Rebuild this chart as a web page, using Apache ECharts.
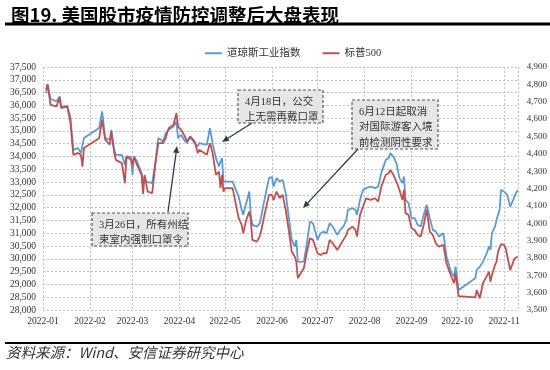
<!DOCTYPE html>
<html>
<head>
<meta charset="utf-8">
<script src="https://cdn.jsdelivr.net/npm/echarts@6/dist/echarts.min.js"></script>
<style>html,body{margin:0;padding:0;background:#fff;}#c{width:550px;height:370px;}</style>
</head>
<body>
<div id="c"></div>
<script>
const dates = ['2022-01-03','2022-01-04','2022-01-06','2022-01-10','2022-01-12','2022-01-13','2022-01-17','2022-01-19','2022-01-21','2022-01-24','2022-01-26','2022-01-27','2022-01-28','2022-02-07','2022-02-09','2022-02-11','2022-02-14','2022-02-15','2022-02-17','2022-02-18','2022-02-22','2022-02-24','2022-02-25','2022-02-28','2022-03-01','2022-03-02','2022-03-04','2022-03-07','2022-03-08','2022-03-09','2022-03-10','2022-03-11','2022-03-14','2022-03-16','2022-03-18','2022-03-21','2022-03-22','2022-03-23','2022-03-24','2022-03-25','2022-03-28','2022-03-30','2022-03-31','2022-04-02','2022-04-04','2022-04-06','2022-04-08','2022-04-11','2022-04-13','2022-04-14','2022-04-19','2022-04-21','2022-04-22','2022-04-23','2022-04-25','2022-04-27','2022-04-28','2022-04-29','2022-04-30','2022-05-01','2022-05-06','2022-05-10','2022-05-12','2022-05-13','2022-05-15','2022-05-17','2022-05-18','2022-05-19','2022-05-22','2022-05-24','2022-05-25','2022-05-27','2022-05-30','2022-06-01','2022-06-02','2022-06-04','2022-06-06','2022-06-08','2022-06-10','2022-06-12','2022-06-14','2022-06-16','2022-06-17','2022-06-18','2022-06-22','2022-06-24','2022-06-26','2022-06-28','2022-07-01','2022-07-03','2022-07-05','2022-07-07','2022-07-09','2022-07-11','2022-07-14','2022-07-16','2022-07-18','2022-07-20','2022-07-21','2022-07-24','2022-07-26','2022-07-27','2022-07-29','2022-07-31','2022-08-02','2022-08-05','2022-08-08','2022-08-10','2022-08-12','2022-08-15','2022-08-17','2022-08-18','2022-08-20','2022-08-22','2022-08-24','2022-08-26','2022-08-27','2022-08-28','2022-08-30','2022-09-01','2022-09-03','2022-09-05','2022-09-07','2022-09-09','2022-09-11','2022-09-13','2022-09-15','2022-09-17','2022-09-19','2022-09-22','2022-09-24','2022-09-27','2022-09-29','2022-09-30','2022-10-02','2022-10-03','2022-10-13','2022-10-14','2022-10-16','2022-10-18','2022-10-21','2022-10-22','2022-10-23','2022-10-24','2022-10-25','2022-10-26','2022-10-27','2022-10-28','2022-10-29','2022-10-30','2022-11-01','2022-11-02','2022-11-03','2022-11-05','2022-11-07','2022-11-08','2022-11-10'];

const dowValues = [36482,36807,36248,36154,36349,35958,35958,35566,34263,34330,34134,34067,34721,35112,35762,34721,34655,35046,34263,34067,34067,33676,34001,33989,33285,34001,33805,33363,32893,33218,33022,32960,32960,33742,34721,34590,34760,34917,34968,35046,35175,35371,34721,34850,34655,34525,34760,34525,34392,34525,34459,35112,34784,34459,33938,33609,33805,33938,33022,33022,33022,32435,31915,31719,32177,32631,31719,31328,31261,31394,31445,32306,33155,33195,32827,33155,33022,33089,32568,31652,30740,30478,30740,29879,29891,30611,31457,31394,30740,31003,31065,31003,31394,31261,30936,31132,31261,31523,31915,31981,31915,31719,32306,32697,32764,32827,32764,32827,33351,33872,33938,34134,34001,33743,33155,32960,33218,32306,32177,31590,31590,31328,31261,31719,32110,31590,31132,31065,30870,31003,30087,29488,29304,29696,28784,28717,29241,29566,29696,29879,30283,30478,30349,31003,31132,31261,31523,31719,31915,32697,32631,32580,32502,32044,32306,32463,32697];

const spValues = [4769,4802,4682,4673,4727,4663,4673,4586,4394,4404,4394,4326,4433,4490,4596,4481,4452,4528,4404,4365,4346,4231,4384,4365,4336,4384,4336,4279,4169,4279,4231,4182,4173,4336,4461,4461,4461,4490,4528,4548,4567,4635,4557,4538,4509,4471,4500,4471,4404,4423,4394,4461,4434,4394,4279,4298,4202,4279,4182,4202,4202,4029,3990,3942,4019,4067,4019,3904,3894,3927,3961,4048,4163,4163,4134,4182,4144,4163,4077,3961,3836,3807,3777,3684,3742,3836,3913,3904,3827,3817,3827,3827,3904,3884,3846,3875,3904,3932,3961,3980,3961,3923,4048,4096,4144,4134,4144,4124,4211,4279,4288,4307,4279,4240,4192,4134,4192,4058,4048,3971,3961,3932,3923,3990,4077,3951,3932,3884,3865,3875,3769,3696,3654,3711,3580,3576,3573,3615,3567,3654,3702,3721,3663,3702,3730,3759,3778,3836,3846,3880,3875,3856,3817,3730,3777,3798,3807];

const seriesNames = ['道琼斯工业指数','标普500'];
const leftAxis = {min: 28000, max: 37500, step: 500};
const rightAxis = {min: 3500, max: 4900, step: 100};
const xRange = ['2022-01-01','2022-11-10'];

const annotations = [
  {lines: ['4月18日，公交','上无需再戴口罩'], box: [238, 90, 85, 33], arrow: [252, 123, 222, 142]},
  {lines: ['3月26日，所有州结','束室内强制口罩令'], box: [92, 213, 96, 33], arrow: [168, 212, 177, 146]},
  {lines: ['6月12日起取消','对国际游客入境','前检测阴性要求'], box: [352, 100, 86, 49], arrow: [358, 149, 303, 208]}
];

const FONT = "'Liberation Serif','Noto Sans CJK SC',serif";
const CJK = "'Liberation Serif','Noto Sans CJK SC',sans-serif";

function fmt(v){ return Number(v).toLocaleString('en-US'); }

function arrowGraphic(x1,y1,x2,y2){
  const a = Math.atan2(y2-y1, x2-x1), L = 7, W = 3;
  const bx = x2 - L*Math.cos(a), by = y2 - L*Math.sin(a);
  const px = -Math.sin(a), py = Math.cos(a);
  return [
    {type:'line', shape:{x1:x1,y1:y1,x2:bx,y2:by}, style:{stroke:'#2f3b4c', lineWidth:1.3}, z:50},
    {type:'polygon', shape:{points:[[x2,y2],[bx+W*px,by+W*py],[bx-W*px,by-W*py]]}, style:{fill:'#2f3b4c'}, z:50}
  ];
}

const graphics = [
  {type:'line', shape:{x1:5,y1:24,x2:550,y2:24}, style:{stroke:'#000', lineWidth:3}},
  {type:'line', shape:{x1:5,y1:343,x2:550,y2:343}, style:{stroke:'#000', lineWidth:2}},
  {type:'text', style:{text:'资料来源：Wind、安信证券研究中心', x:6, y:345.5, fill:'#333', font:"italic 14.5px 'Noto Sans CJK SC', sans-serif", verticalAlign:'top'}}
];
annotations.forEach(function(an){
  const b = an.box;
  graphics.push({type:'rect', shape:{x:b[0], y:b[1], width:b[2], height:b[3]}, style:{fill:'#e7e6e6', stroke:'#595959', lineWidth:1.2, lineDash:[3,2]}, z:40});
  graphics.push({type:'text', style:{text: an.lines.join('\n'), x:b[0]+7, y:b[1]+4, fill:'#333', font:"10.5px " + CJK, lineHeight:15.5, verticalAlign:'top'}, z:45});
  arrowGraphic.apply(null, an.arrow).forEach(function(g){ graphics.push(g); });
});

const chart = echarts.init(document.getElementById('c'), null, {renderer:'canvas'});
const DAY = 86400000;
chart.setOption({
  animation: false,
  backgroundColor: '#fff',
  title: {text: '图19. 美国股市疫情防控调整后大盘表现', left: 6, top: 1,
    textStyle: {fontSize: 18.5, fontWeight: 'bold', color: '#000', fontFamily: "'Noto Sans CJK SC', sans-serif"}},
  legend: {left: 200, top: 43, icon: 'rect', itemWidth: 17, itemHeight: 2, itemGap: 22,
    textStyle: {fontSize: 10.5, color: '#333', fontFamily: CJK},
    data: seriesNames},
  grid: {left: 43, right: 32, top: 67, bottom: 60, containLabel: false},
  xAxis: {
    type: 'time', min: xRange[0], max: xRange[1],
    minInterval: 28*DAY, maxInterval: 31*DAY, splitNumber: 11,
    axisLine: {show: false}, axisTick: {show: false},
    axisLabel: {margin: 7, fontSize: 9.5, color: '#333', fontFamily: FONT, hideOverlap: false,
      formatter: function(v){ const d = new Date(v); return d.getFullYear() + '-' + String(d.getMonth()+1).padStart(2,'0'); }},
    splitLine: {show: true, lineStyle: {color: '#bfbfbf', type: [2,2], width: 1}}
  },
  yAxis: [
    {type: 'value', min: leftAxis.min, max: leftAxis.max, interval: leftAxis.step,
      axisLine: {show: false}, axisTick: {show: false},
      axisLabel: {margin: 7, fontSize: 9.5, color: '#333', fontFamily: FONT, formatter: fmt},
      splitLine: {show: true, lineStyle: {color: '#bfbfbf', type: [2,2], width: 1}}},
    {type: 'value', min: rightAxis.min, max: rightAxis.max, interval: rightAxis.step, position: 'right',
      axisLine: {show: false}, axisTick: {show: false},
      axisLabel: {margin: 9, fontSize: 9, color: '#333', fontFamily: FONT, formatter: fmt},
      splitLine: {show: false}}
  ],
  series: [
    {name: seriesNames[0], type: 'line', yAxisIndex: 0, showSymbol: false, symbol: 'none',
      lineStyle: {color: '#5b9bd5', width: 1.8}, itemStyle: {color: '#5b9bd5'},
      data: dates.map(function(d,i){ return [d, dowValues[i]]; })},
    {name: seriesNames[1], type: 'line', yAxisIndex: 1, showSymbol: false, symbol: 'none',
      lineStyle: {color: '#c0504d', width: 1.8}, itemStyle: {color: '#c0504d'},
      data: dates.map(function(d,i){ return [d, spValues[i]]; }), z: 3}
  ],
  graphic: graphics
});
</script>
</body>
</html>
